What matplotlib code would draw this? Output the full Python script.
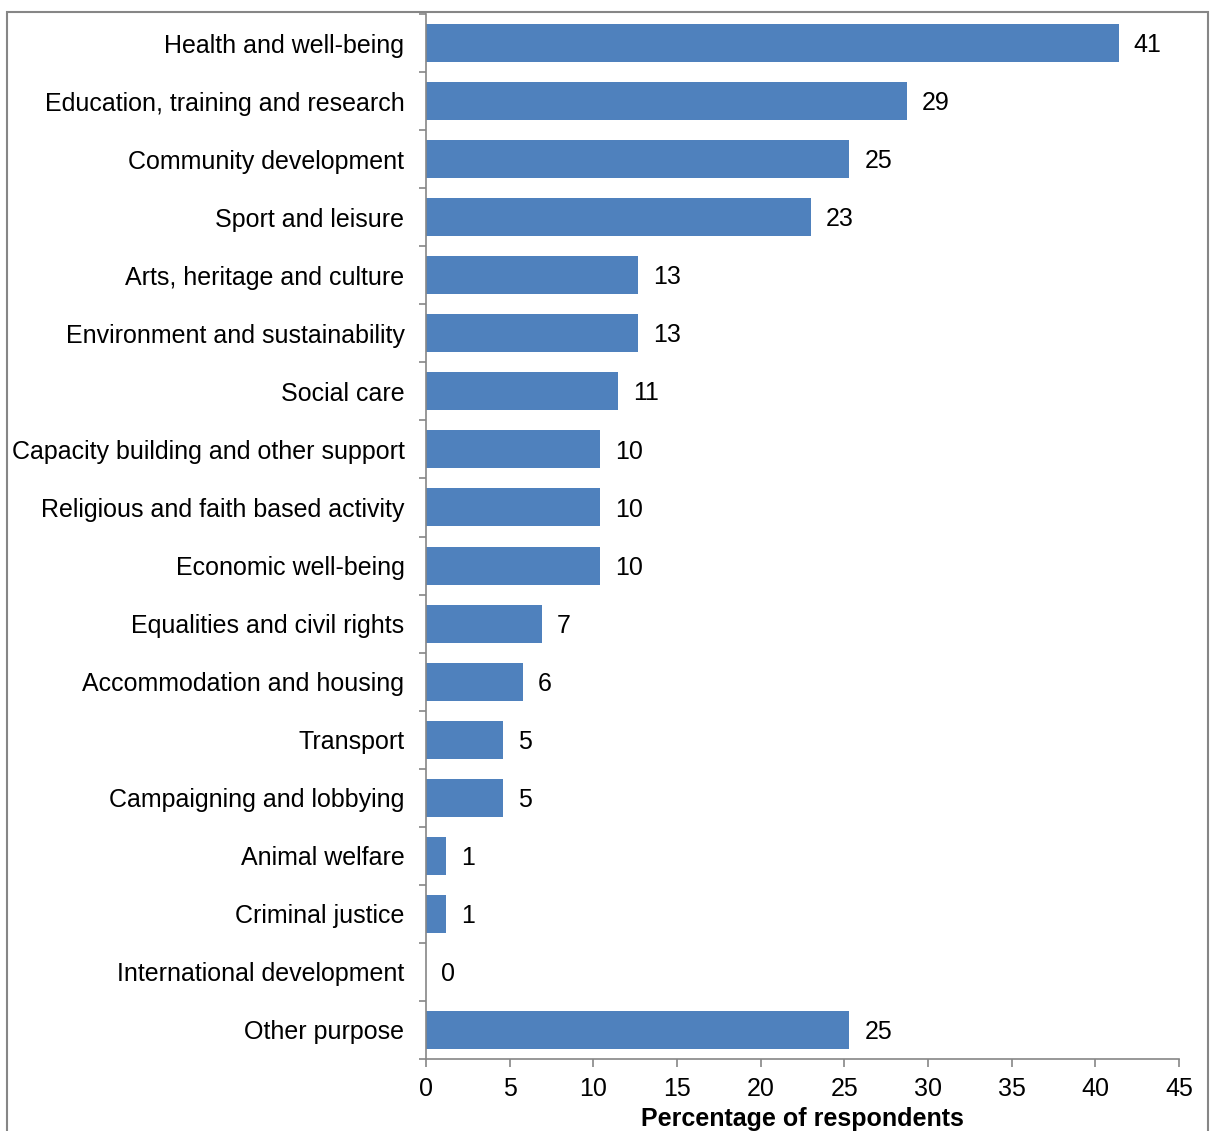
import matplotlib
matplotlib.use("Agg")
import matplotlib.pyplot as plt
from matplotlib.patches import Rectangle
import numpy as np

categories = [
    "Health and well-being",
    "Education, training and research",
    "Community development",
    "Sport and leisure",
    "Arts, heritage and culture",
    "Environment and sustainability",
    "Social care",
    "Capacity building and other support",
    "Religious and faith based activity",
    "Economic well-being",
    "Equalities and civil rights",
    "Accommodation and housing",
    "Transport",
    "Campaigning and lobbying",
    "Animal welfare",
    "Criminal justice",
    "International development",
    "Other purpose",
]
values = [41.4, 28.75, 25.3, 23.0, 12.67, 12.67, 11.5, 10.4, 10.4, 10.4,
          6.93, 5.8, 4.6, 4.6, 1.2, 1.2, 0.0, 25.3]
value_labels = ["41", "29", "25", "23", "13", "13", "11", "10", "10", "10",
                "7", "6", "5", "5", "1", "1", "0", "25"]
x_ticks = [0, 5, 10, 15, 20, 25, 30, 35, 40, 45]

plt.rcParams['font.family'] = ['Liberation Sans', 'DejaVu Sans']
gray = "#868686"
bar_color = "#4F81BD"
fs = 18

fig = plt.figure(figsize=(12.14, 11.31), dpi=100)
ax = fig.add_axes([426/1214, 1 - 1059/1131, (1179-426)/1214, (1059-14)/1131])

n = len(categories)
y = np.arange(n)
ax.barh(y, values, height=0.655, color=bar_color)
ax.set_ylim(n - 0.5, -0.5)
ax.set_xlim(0, 45)

for yi, v, lab in zip(y, values, value_labels):
    ax.annotate(lab, xy=(v, yi), xytext=(10.8, -1.5), textcoords="offset points",
                ha="left", va="center", fontsize=fs, color="black")

ax.set_yticks(y)
ax.set_yticklabels(categories, fontsize=fs)
ax.set_yticks(np.arange(-0.5, n, 1.0), minor=True)
ax.tick_params(axis="y", which="major", length=0, pad=15.5)
ax.tick_params(axis="y", which="minor", length=5, color=gray, width=1.2, direction="out")

ax.set_xticks(x_ticks)
ax.set_xticklabels([str(t) for t in x_ticks], fontsize=fs)
ax.tick_params(axis="x", which="major", length=6, color=gray, width=1.2, direction="out", pad=7)

for s in ["top", "right"]:
    ax.spines[s].set_visible(False)
for s in ["left", "bottom"]:
    ax.spines[s].set_color(gray)
    ax.spines[s].set_linewidth(1.2)

ax.set_xlabel("Percentage of respondents", fontsize=fs, fontweight="bold", labelpad=4)

fig.patches.append(Rectangle((7/1214, -0.02), (1208-7)/1214, 1 - 12/1131 + 0.02,
                             transform=fig.transFigure, fill=False,
                             edgecolor=gray, linewidth=1.5))

fig.savefig("out.png", dpi=100)
